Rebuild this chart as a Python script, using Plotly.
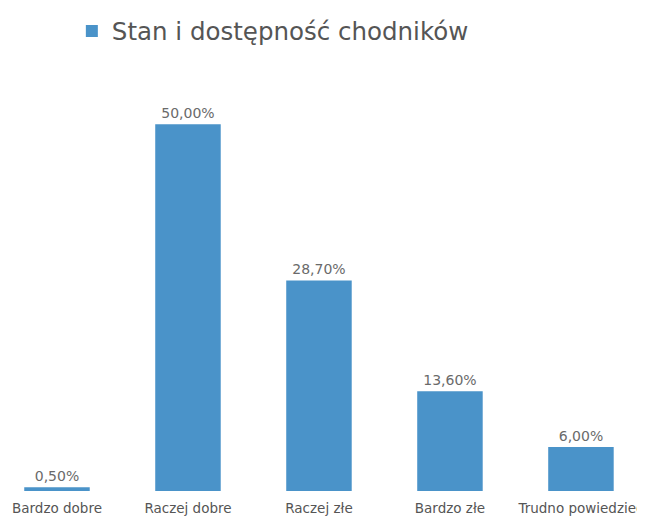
import plotly.graph_objects as go

categories = ["Bardzo dobre", "Raczej dobre", "Raczej złe", "Bardzo złe", "Trudno powiedzieć"]
values = [0.5, 50.0, 28.7, 13.6, 6.0]
series_name = "Stan i dostępność chodników"

labels = [f"{v:.2f}".replace(".", ",") + "%" for v in values]

fig = go.Figure()
fig.add_trace(go.Bar(
    x=categories, y=values, name=series_name,
    marker=dict(color="#4a93c9", line=dict(width=0)),
    text=labels, textposition="outside", cliponaxis=False,
    textfont=dict(family="DejaVu Sans", size=14, color="#6a6a6a"),
    showlegend=True,
))

fig.update_layout(
    width=645, height=520,
    margin=dict(l=0, r=0, t=50, b=37),
    paper_bgcolor="white", plot_bgcolor="white",
    bargap=0.5,
    font=dict(family="DejaVu Sans", color="#555555"),
    xaxis=dict(range=[-0.374, 4.55], showgrid=False, zeroline=False, showline=False,
               ticks="", tickfont=dict(family="DejaVu Sans", size=13.5, color="#555555"),
               ticklabelstandoff=7),
    yaxis=dict(range=[0, 58.2], visible=False, showgrid=False),
    legend=dict(orientation="h", x=0.099, xanchor="left", y=1.13, yanchor="top",
                yref="paper", font=dict(family="DejaVu Sans", size=24.5, color="#555555")),
)

fig.write_html("out.html")
